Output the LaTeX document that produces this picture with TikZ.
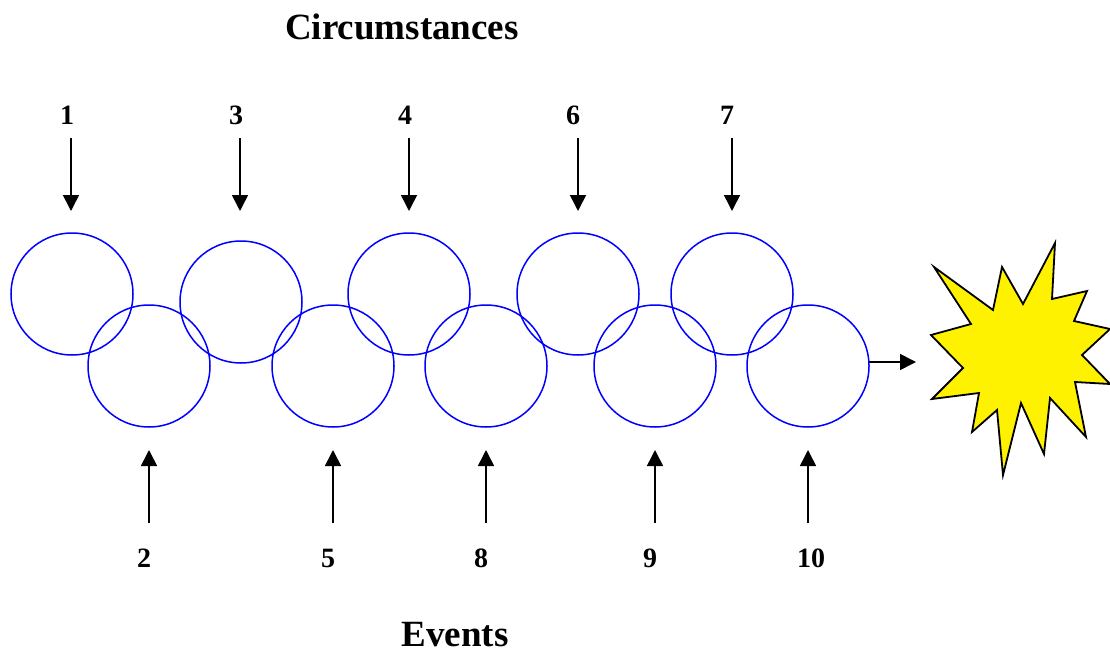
\documentclass[tikz,border=0pt]{standalone}
\usepackage{fontspec}
\setmainfont{Liberation Serif}
\usetikzlibrary{arrows.meta}
\begin{document}
\begin{tikzpicture}[x=1pt,y=-1pt,
  ring/.style={draw=blue,line width=1.5pt,circle,minimum size=122pt,inner sep=0pt},
  num/.style={font=\fontsize{28}{30}\selectfont\bfseries,inner sep=0pt},
  ttl/.style={font=\fontsize{37}{40}\selectfont\bfseries,inner sep=0pt},
  arr/.style={line width=1.6pt,-{Triangle[length=16pt,width=16pt]}}]
\useasboundingbox (0,0) rectangle (1110,655);
\node[ttl] (title) at (402,27) {Circumstances};
\node[ttl] (events) at (455,635) {Events};
% circles
\node[ring] (c1) at (72,294) {};
\node[ring] (c3) at (241,302) {};
\node[ring] (c4) at (409,294) {};
\node[ring] (c6) at (578,294) {};
\node[ring] (c7) at (732,294) {};
\node[ring] (c2) at (149,366) {};
\node[ring] (c5) at (333,366) {};
\node[ring] (c8) at (486,366) {};
\node[ring] (c9) at (655,366) {};
\node[ring] (c10) at (808,366) {};
% top labels and arrows
\foreach \n/\x/\lx in {1/71/67,3/240/236,4/409/405,6/578/573,7/732/727}{
  \node[num] (l\n) at (\lx,115) {\n};
  \coordinate (s\n) at (\x,138);
  \coordinate (e\n) at (\x,211);
  \draw[arr] (s\n) -- (e\n);
}
% bottom labels and arrows
\foreach \n/\x/\lx in {2/149/144,5/333/328,8/486/481,9/655/650,10/808/811}{
  \node[num] (l\n) at (\lx,558) {\n};
  \coordinate (s\n) at (\x,523);
  \coordinate (e\n) at (\x,450);
  \draw[arr] (s\n) -- (e\n);
}
% star
\draw[fill=yellow,line width=1.8pt,line join=miter]
 (934,267) -- (993,310) -- (1002,267) -- (1023,304) -- (1055,243) -- (1052,299)
 -- (1087,291) -- (1074,321) -- (1110,329) -- (1082,355) -- (1110,384) -- (1075,382)
 -- (1086,437) -- (1050,398) -- (1044,454) -- (1021,403) -- (1003,475) -- (997,410)
 -- (972,432) -- (979,393) -- (932,399) -- (963,368) -- (931,335) -- (971,324) -- cycle;
\coordinate (out) at (869,362);
\coordinate (boom) at (916,362);
\draw[arr] (out) -- (boom);
\end{tikzpicture}
\end{document}
